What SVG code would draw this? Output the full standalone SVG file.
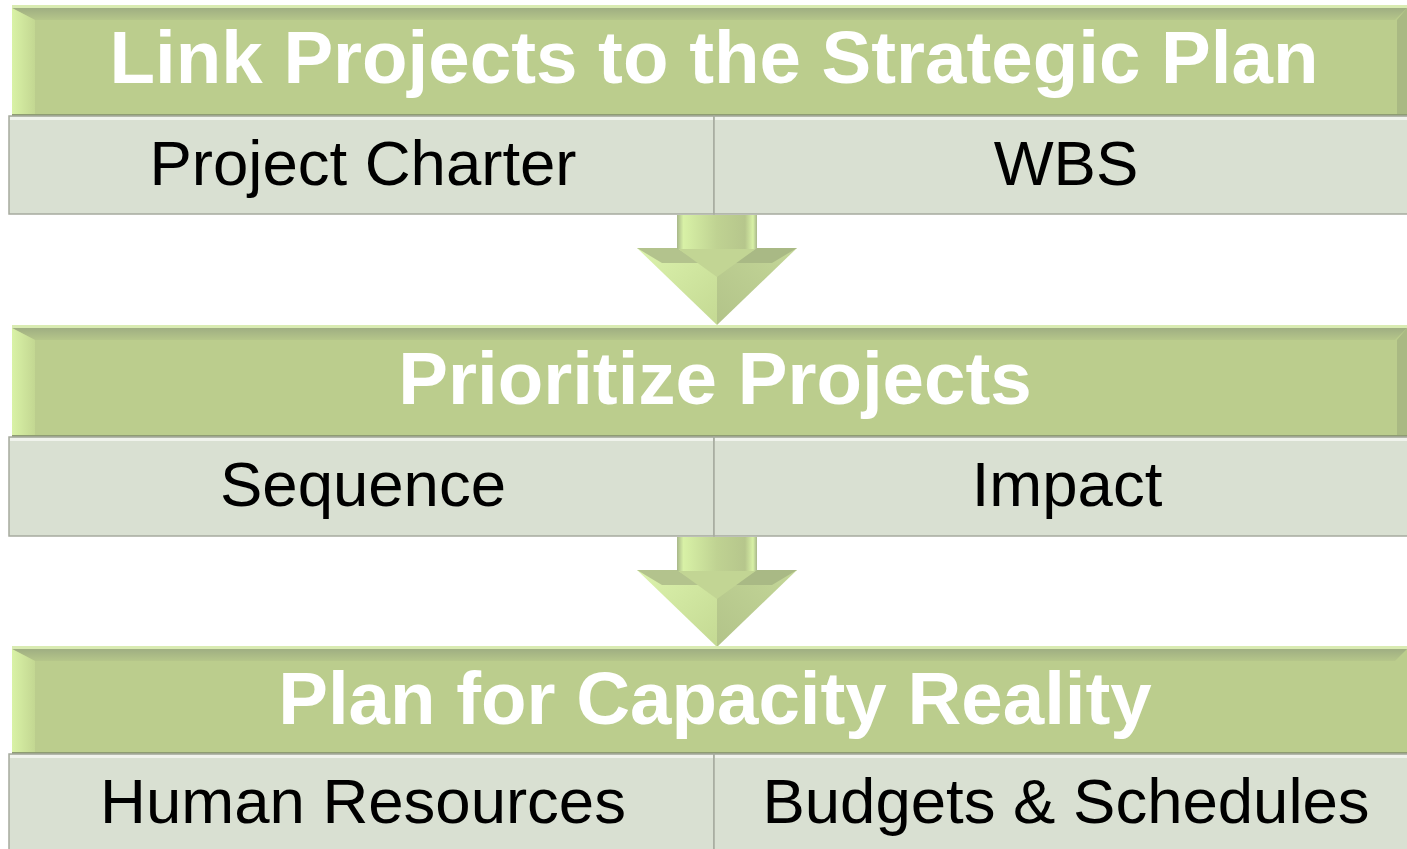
<svg xmlns="http://www.w3.org/2000/svg" width="1407" height="849" viewBox="0 0 1407 849">
<defs>
<style>
.hdr{fill:#bbcd8d}
.htop{fill:url(#gTop)}
.hleft{fill:url(#gLeft)}
.hright{fill:#a9b983}
.hline{fill:#d9ebb2}
.hbot{fill:#8e9c72}
.sub{fill:#d9e0d2;stroke:#a6ab9f;stroke-width:1.5}
.subtop{fill:#f0f3ec}
.ht{font-family:"Liberation Sans",Arial,sans-serif;font-weight:bold;font-size:74.5px;fill:#ffffff;text-anchor:middle}
.st{font-family:"Liberation Sans",Arial,sans-serif;font-size:63.5px;fill:#000000;text-anchor:middle}
</style>
<linearGradient id="gTop" x1="0" y1="0" x2="0" y2="1">
<stop offset="0" stop-color="#9fae82"/>
<stop offset="1" stop-color="#b5c68a"/>
</linearGradient>
<linearGradient id="gLeft" x1="0" y1="0" x2="1" y2="0">
<stop offset="0" stop-color="#d9f2a6"/>
<stop offset="1" stop-color="#c3d792"/>
</linearGradient>
<linearGradient id="gShaft" x1="0" y1="0" x2="1" y2="0">
<stop offset="0" stop-color="#a8b78a"/>
<stop offset="0.08" stop-color="#d8f1a6"/>
<stop offset="0.5" stop-color="#bfd292"/>
<stop offset="0.85" stop-color="#b6c68c"/>
<stop offset="0.95" stop-color="#d8f1a6"/>
<stop offset="1" stop-color="#a8b78a"/>
</linearGradient>
<linearGradient id="gHeadL" x1="0" y1="0" x2="1" y2="1">
<stop offset="0" stop-color="#dcf3ad"/>
<stop offset="1" stop-color="#c4d993"/>
</linearGradient>
<linearGradient id="gHeadR" x1="1" y1="0" x2="0" y2="1">
<stop offset="0" stop-color="#c4d798"/>
<stop offset="1" stop-color="#b2c389"/>
</linearGradient>
<g id="arrow">
<polygon points="637,33 717,33 717,110" fill="url(#gHeadL)"/>
<polygon points="797,33 717,33 717,110" fill="url(#gHeadR)"/>
<polygon points="637,33 677,33 700,48 662,48" fill="#b3c38d"/>
<polygon points="797,33 757,33 734,48 772,48" fill="#a9b985"/>
<polygon points="677,33 757,33 717,62" fill="#c2d594"/>
<rect x="677" y="0" width="80" height="34" fill="url(#gShaft)"/>
</g>
</defs>

<g id="connectors">
<use href="#arrow" x="0" y="215"/>
<use href="#arrow" x="0" y="537"/>
</g>

<g id="header1">
<rect class="hdr" x="12" y="5" width="1395" height="111"/>
<rect class="hline" x="12" y="5" width="1395" height="3"/>
<polygon class="htop" points="12,8 1407,8 1395,20 35,20"/>
<polygon class="hleft" points="12,8 35,20 35,115 12,115"/>
<polygon class="hright" points="1407,8 1407,115 1397,115 1397,20"/>
<rect class="hbot" x="12" y="114" width="1395" height="2"/>
<text class="ht" x="714" y="83">Link Projects to the Strategic Plan</text>
</g>
<g id="sub1a">
<rect class="sub" x="9" y="116" width="705" height="98"/>
<rect class="subtop" x="10" y="117" width="703" height="3"/>
<text class="st" x="363" y="185">Project Charter</text>
</g>
<g id="sub1b">
<rect class="sub" x="714" y="116" width="700" height="98"/>
<rect class="subtop" x="715" y="117" width="698" height="3"/>
<text class="st" x="1066" y="185">WBS</text>
</g>

<g id="header2">
<rect class="hdr" x="12" y="325" width="1395" height="112"/>
<rect class="hline" x="12" y="325" width="1395" height="3"/>
<polygon class="htop" points="12,328 1407,328 1395,340 35,340"/>
<polygon class="hleft" points="12,328 35,340 35,436 12,436"/>
<polygon class="hright" points="1407,328 1407,436 1397,436 1397,340"/>
<rect class="hbot" x="12" y="435" width="1395" height="2"/>
<text class="ht" x="715" y="404">Prioritize Projects</text>
</g>
<g id="sub2a">
<rect class="sub" x="9" y="437" width="705" height="99"/>
<rect class="subtop" x="10" y="438" width="703" height="3"/>
<text class="st" x="363" y="506">Sequence</text>
</g>
<g id="sub2b">
<rect class="sub" x="714" y="437" width="700" height="99"/>
<rect class="subtop" x="715" y="438" width="698" height="3"/>
<text class="st" x="1067" y="506">Impact</text>
</g>

<g id="header3">
<rect class="hdr" x="12" y="646" width="1395" height="108"/>
<rect class="hline" x="12" y="646" width="1395" height="3"/>
<polygon class="htop" points="12,649 1407,649 1395,661 35,661"/>
<polygon class="hleft" points="12,649 35,661 35,753 12,753"/>
<rect class="hbot" x="12" y="752" width="1395" height="2"/>
<text class="ht" x="715" y="724">Plan for Capacity Reality</text>
</g>
<g id="sub3a">
<rect class="sub" x="9" y="754" width="705" height="100"/>
<rect class="subtop" x="10" y="755" width="703" height="3"/>
<text class="st" x="363" y="823">Human Resources</text>
</g>
<g id="sub3b">
<rect class="sub" x="714" y="754" width="700" height="100"/>
<rect class="subtop" x="715" y="755" width="698" height="3"/>
<text class="st" x="1066" y="823">Budgets &amp; Schedules</text>
</g>
</svg>
